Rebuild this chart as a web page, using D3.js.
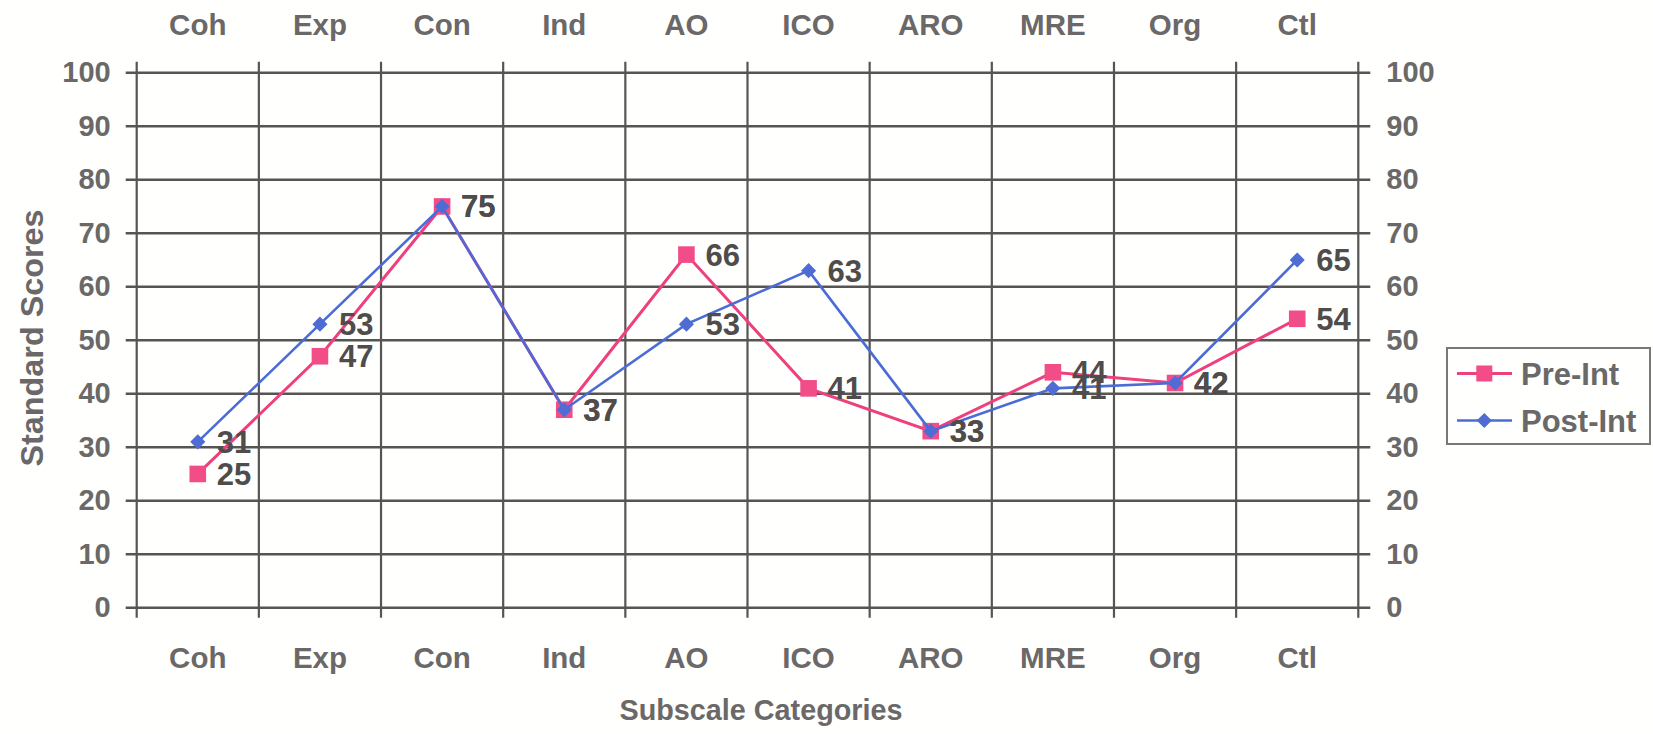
<!DOCTYPE html>
<html>
<head>
<meta charset="utf-8">
<script src="https://cdn.jsdelivr.net/npm/d3@7"></script>
<style>
  html, body { margin: 0; padding: 0; background: #fffffd; }
  svg { display: block; font-family: "Liberation Sans", Arial, sans-serif; font-weight: bold; }
</style>
</head>
<body>
<svg id="chart" width="1653" height="734"></svg>
<script>
// Subscale categories along the x axis
const categories = ["Coh", "Exp", "Con", "Ind", "AO", "ICO", "ARO", "MRE", "Org", "Ctl"];
// Standard scores before and after the intervention
const preInt  = [25, 47, 75, 37, 66, 41, 33, 44, 42, 54];
const postInt = [31, 53, 75, 37, 53, 63, 33, 41, 42, 65];
// Score axis ticks
const yTicks = [0, 10, 20, 30, 40, 50, 60, 70, 80, 90, 100];
const seriesNames = ["Pre-Int", "Post-Int"];

const svg = d3.select("#chart");
const plotLeft = 136.7, plotRight = 1358.3, plotTop = 72.7, plotBottom = 607.7;

const x = d3.scaleBand().domain(categories).range([plotLeft, plotRight]).padding(0);
const y = d3.scaleLinear().domain([0, 100]).range([plotBottom, plotTop]);
const cx = c => x(c) + x.bandwidth() / 2;

const gridColor = "#575454";
const textGrey = "#6a6868";
const pink = "#ee3f7e";
const blue = "#4b6bd6";

// Horizontal grid lines with ticks extending past both edges
svg.append("g").selectAll("line").data(yTicks).join("line")
  .attr("x1", plotLeft - 11).attr("x2", plotRight + 12)
  .attr("y1", d => y(d)).attr("y2", d => y(d))
  .attr("stroke", gridColor).attr("stroke-width", 2.4);

// Vertical grid lines at column boundaries
const bounds = categories.map(c => x(c)).concat([plotRight]);
svg.append("g").selectAll("line").data(bounds).join("line")
  .attr("x1", d => d).attr("x2", d => d)
  .attr("y1", plotTop - 11).attr("y2", plotBottom + 10)
  .attr("stroke", gridColor).attr("stroke-width", 2.2);

// Left and right score axes (labels only; lines are drawn above)
const leftAxis = svg.append("g").attr("transform", `translate(${plotLeft},0)`)
  .call(d3.axisLeft(y).tickValues(yTicks).tickSize(0).tickPadding(26));
const rightAxis = svg.append("g").attr("transform", `translate(${plotRight},0)`)
  .call(d3.axisRight(y).tickValues(yTicks).tickSize(0).tickPadding(28));
[leftAxis, rightAxis].forEach(a => {
  a.select(".domain").remove();
  a.selectAll("text").attr("fill", textGrey).style("font-size", "29px")
    .style("font-family", "'Liberation Sans', Arial, sans-serif").style("font-weight", "bold");
});

// Category labels at the bottom and at the top
const bottomAxis = svg.append("g").attr("transform", `translate(0,${plotBottom})`)
  .call(d3.axisBottom(x).tickSize(0).tickPadding(39));
const topAxis = svg.append("g").attr("transform", `translate(0,${plotTop})`)
  .call(d3.axisTop(x).tickSize(0).tickPadding(38));
[bottomAxis, topAxis].forEach(a => {
  a.select(".domain").remove();
  a.selectAll("text").attr("fill", textGrey).style("font-size", "29.5px")
    .style("font-family", "'Liberation Sans', Arial, sans-serif").style("font-weight", "bold");
});

// Axis titles
svg.append("text")
  .attr("x", 761).attr("y", 720)
  .attr("text-anchor", "middle")
  .attr("fill", textGrey).style("font-size", "30px")
  .attr("textLength", 283).attr("lengthAdjust", "spacingAndGlyphs")
  .text("Subscale Categories");
svg.append("text")
  .attr("transform", "translate(43,338) rotate(-90)")
  .attr("text-anchor", "middle")
  .attr("fill", textGrey).style("font-size", "31px")
  .attr("textLength", 257).attr("lengthAdjust", "spacingAndGlyphs")
  .text("Standard Scores");

const line = d3.line().x((d, i) => cx(categories[i])).y(d => y(d));
const diamond = d3.symbol().type(d3.symbolDiamond2).size(145);

// Pre-intervention series: pink line with square markers
svg.append("path").datum(preInt).attr("d", line)
  .attr("fill", "none").attr("stroke", pink).attr("stroke-width", 3);
svg.append("g").selectAll("rect").data(preInt).join("rect")
  .attr("x", (d, i) => cx(categories[i]) - 8.3).attr("y", d => y(d) - 8.3)
  .attr("width", 16.6).attr("height", 16.6)
  .attr("fill", "#f24d88");

// Post-intervention series: blue line with diamond markers
svg.append("path").datum(postInt).attr("d", line)
  .attr("fill", "none").attr("stroke", blue).attr("stroke-width", 2.6);
svg.append("g").selectAll("path").data(postInt).join("path")
  .attr("d", diamond)
  .attr("transform", (d, i) => `translate(${cx(categories[i])},${y(d)})`)
  .attr("fill", "#4e6cd3");

// Value labels to the right of each point
[preInt, postInt].forEach(series => {
  svg.append("g").selectAll("text").data(series).join("text")
    .attr("x", (d, i) => cx(categories[i]) + 19)
    .attr("y", d => y(d) + 11)
    .attr("fill", "#4f4c4c").style("font-size", "31px")
    .text(d => d);
});

// Legend
const lg = svg.append("g");
lg.append("rect").attr("x", 1447).attr("y", 348).attr("width", 203).attr("height", 96)
  .attr("fill", "#fffffd").attr("stroke", "#7a7777").attr("stroke-width", 2);
const legendRows = [
  { name: seriesNames[0], color: pink, y: 373.5, marker: "square" },
  { name: seriesNames[1], color: blue, y: 420.5, marker: "diamond" }
];
legendRows.forEach(r => {
  lg.append("line").attr("x1", 1457).attr("x2", 1512).attr("y1", r.y).attr("y2", r.y)
    .attr("stroke", r.color).attr("stroke-width", r.marker === "square" ? 3 : 2.6);
  if (r.marker === "square") {
    lg.append("rect").attr("x", 1484.3 - 8).attr("y", r.y - 8).attr("width", 16).attr("height", 16)
      .attr("fill", "#f24d88");
  } else {
    lg.append("path").attr("d", diamond).attr("transform", `translate(1484.3,${r.y})`)
      .attr("fill", "#4e6cd3");
  }
  lg.append("text").attr("x", 1521).attr("y", r.y + 11)
    .attr("fill", textGrey).style("font-size", "31px").text(r.name);
});
</script>
</body>
</html>
